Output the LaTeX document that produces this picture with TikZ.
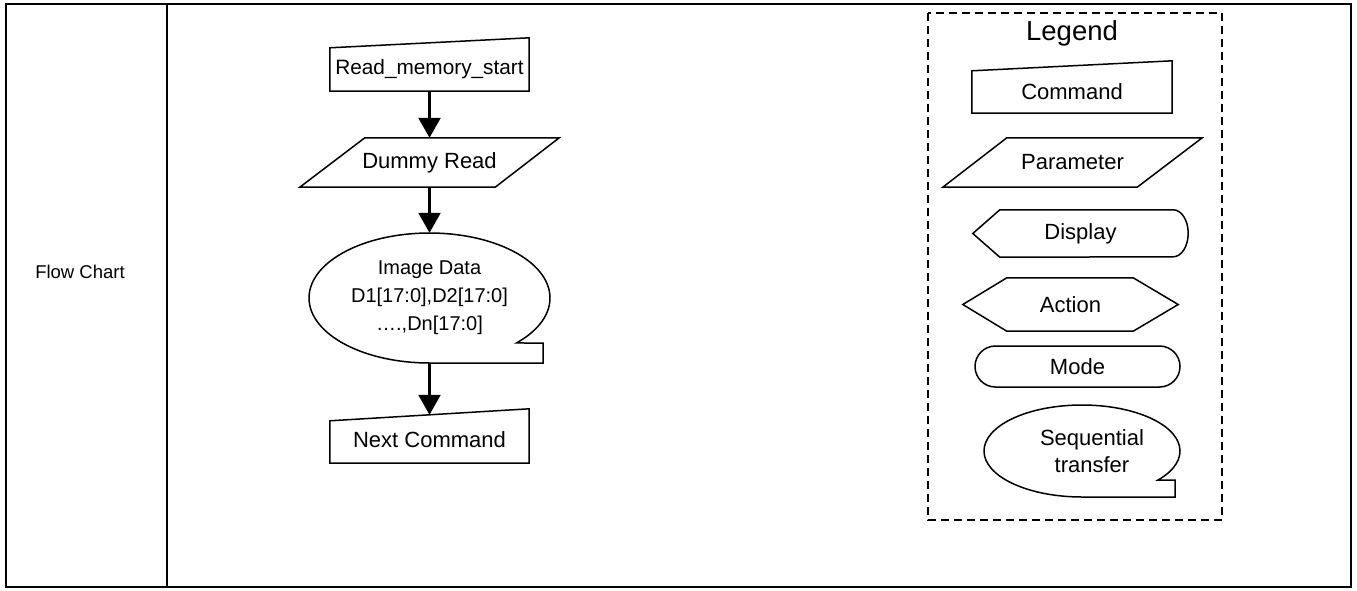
\documentclass[tikz,border=0pt]{standalone}
\usepackage{fontspec}
\setmainfont{Liberation Sans}
\usetikzlibrary{arrows.meta,calc}

\begin{document}
\begin{tikzpicture}[x=1pt,y=-1pt,
    shp/.style={line width=1.5pt,line join=miter},
    flow/.style={-{Triangle[width=22pt,length=20pt]},line width=2.4pt},
    txt/.style={inner sep=0pt,align=center,font=\fontsize{22}{26}\selectfont},
    lgd/.style={inner sep=0pt,align=center,font=\fontsize{22}{27}\selectfont}]
    \useasboundingbox (0,0) rectangle (1357,590);

    \draw[line width=2.6pt] (6,4) rectangle (1351,587);
    \draw[line width=2.6pt] (167,4) -- (167,587);
    \node[font=\fontsize{18.5}{22}\selectfont] (lbl) at (80,272) {Flow Chart};

    \node[txt,font=\fontsize{20.8}{26}\selectfont,minimum width=199pt,minimum height=43pt] (rms) at (429.5,69.5) {Read\_memory\_start};
    \node[txt,minimum width=259pt,minimum height=49pt] (dmy) at (429.5,162.5) {Dummy Read};
    \node[txt,font=\fontsize{20}{28}\selectfont,minimum width=241pt,minimum height=130pt] (img) at (429.5,298) {Image Data\\D1[17:0],D2[17:0]\\….,Dn[17:0]};
    \node[txt,minimum width=199pt,minimum height=42pt] (nxt) at (429.5,440) {Next Command};

    \draw[shp] (rms.south west) -- (rms.south east) -- ($(rms.north east)+(0,10pt)$) -- (rms.north west) -- cycle;
    \draw[shp] (dmy.south west) -- ($(dmy.south east)+(-64pt,0)$) -- (dmy.north east) -- ($(dmy.north west)+(65pt,0)$) -- cycle;
    \draw[shp] ($(img.center)+(-43.8:120.5pt and 65pt)$) arc[start angle=-43.8,end angle=270,x radius=120.5pt,y radius=65pt]
        -- ++(113.5pt,0) -- ++(0,20pt) -- cycle;
    \draw[shp] ($(nxt.south west)+(0,-2pt)$) -- ($(nxt.south east)+(0,-2pt)$) -- ($(nxt.north east)+(0,10pt)$) -- ($(nxt.north west)+(0,-2pt)$) -- cycle;

    \draw[flow] (rms.south) -- (dmy.north);
    \draw[flow] (dmy.south) -- (img.north);
    \draw[flow] (img.south) -- ($(nxt.north)+(0,4pt)$);

    % legend
    \draw[line width=2.6pt,dash pattern=on 8pt off 5pt] (928,13) rectangle (1222,520);
    \node[font=\fontsize{27.5}{32}\selectfont] (ltitle) at (1072,33) {Legend};

    \node[lgd,minimum width=200pt,minimum height=42pt] (lcmd) at (1072,92) {Command};
    \draw[shp] (lcmd.south west) -- (lcmd.south east) -- ($(lcmd.north east)+(0,10pt)$) -- (lcmd.north west) -- cycle;

    \node[lgd,minimum width=259pt,minimum height=49pt] (lpar) at (1072.5,162.5) {Parameter};
    \draw[shp] (lpar.south west) -- ($(lpar.south east)+(-65pt,0)$) -- (lpar.north east) -- ($(lpar.north west)+(64pt,0)$) -- cycle;

    \node[lgd,minimum width=215pt,minimum height=47pt] (ldisp) at (1080.5,233.5) {Display};
    \draw[shp] (ldisp.west) -- ($(ldisp.north west)+(27pt,0)$) -- ($(ldisp.north east)+(-15pt,0)$)
        arc[start angle=90,end angle=-90,x radius=15pt,y radius=23.5pt] -- ($(ldisp.south west)+(27pt,0)$) -- cycle;

    \node[lgd,minimum width=215pt,minimum height=53pt] (lact) at (1070.5,304.5) {Action};
    \draw[shp] (lact.west) -- ($(lact.north west)+(44pt,0)$) -- ($(lact.north east)+(-45pt,0)$) -- (lact.east)
        -- ($(lact.south east)+(-45pt,0)$) -- ($(lact.south west)+(44pt,0)$) -- cycle;

    \node[lgd,draw,shp,rounded corners=20.5pt,minimum width=205pt,minimum height=41pt] (lmode) at (1077.5,366.5) {Mode};

    \node[lgd,minimum width=196pt,minimum height=92pt] (lseq) at (1092,451) {Sequential\\transfer};
    \draw[shp] ($(lseq.center)+(-10pt,0)+(-39.1:98pt and 46pt)$) arc[start angle=-39.1,end angle=270,x radius=98pt,y radius=46pt]
        -- ++(93pt,0) -- ++(0,17pt) -- cycle;
\end{tikzpicture}
\end{document}
